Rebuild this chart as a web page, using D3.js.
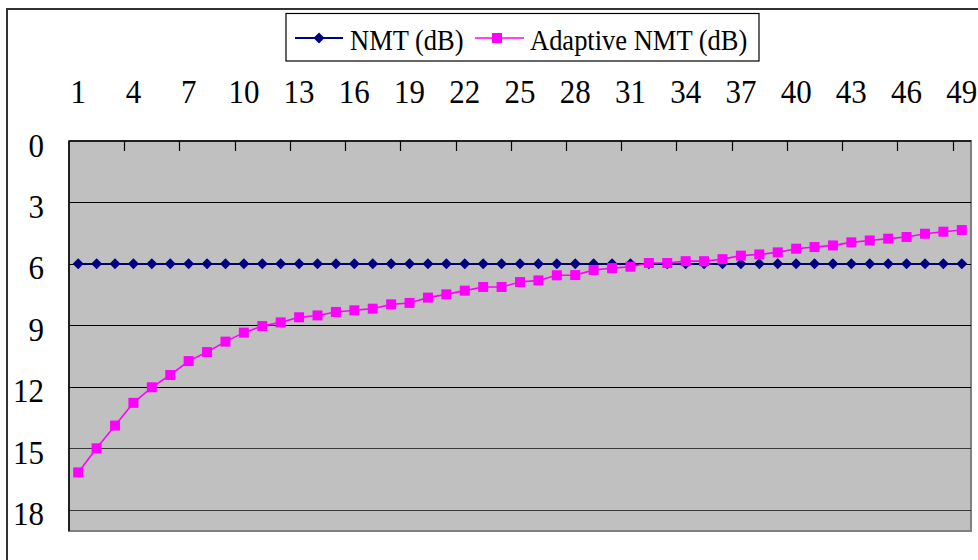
<!DOCTYPE html>
<html><head><meta charset="utf-8">
<script src="https://cdn.jsdelivr.net/npm/d3@7"></script>
</head><body style="margin:0">
<svg id="c" width="978" height="560"></svg>
<script>
const categories = d3.range(1, 50);
const nmt = categories.map(() => 6);
const adaptive = [16.19,15.01,13.90,12.79,12.03,11.43,10.75,10.31,9.80,9.36,
  9.04,8.86,8.61,8.52,8.35,8.27,8.19,7.98,7.91,7.65,
  7.49,7.31,7.13,7.13,6.89,6.81,6.56,6.55,6.30,6.21,
  6.14,5.96,5.96,5.87,5.87,5.77,5.60,5.54,5.44,5.26,
  5.18,5.10,4.95,4.86,4.77,4.69,4.53,4.43,4.35];
const xTickLabels = [1,4,7,10,13,16,19,22,25,28,31,34,37,40,43,46,49];
const yTicks = [0,3,6,9,12,15,18];
const seriesNames = ["NMT (dB)", "Adaptive NMT (dB)"];

const svg = d3.select("#c");
const L = 69, R = 971, T = 141, B = 531;
const x = d3.scaleBand().domain(categories).range([L, R]).padding(0);
const cx = d => x(d) + x.bandwidth() / 2;
const y = d3.scaleLinear().domain([0, 19.05]).range([T, B]);

// outer chart border
svg.append("rect").attr("x", 7).attr("y", 9).attr("width", 1000).attr("height", 600)
  .attr("fill", "#fff").attr("stroke", "#333").attr("stroke-width", 2);

// plot area
svg.append("rect").attr("x", L).attr("y", T).attr("width", R - L).attr("height", B - T)
  .attr("fill", "#c0c0c0").attr("stroke", "#808080").attr("stroke-width", 2);

// gridlines
svg.append("g").selectAll("line").data(yTicks.filter(v => v > 0)).join("line")
  .attr("x1", L).attr("x2", R).attr("y1", d => Math.round(y(d)) + 0.5).attr("y2", d => Math.round(y(d)) + 0.5)
  .attr("stroke", d => d >= 15 ? "#3a3a3a" : "#000").attr("stroke-width", 1.2);

// axis lines with ticks inward
svg.append("line").attr("x1", L).attr("x2", R).attr("y1", T).attr("y2", T).attr("stroke", "#000").attr("stroke-width", 1.5);
svg.append("line").attr("x1", L).attr("x2", L).attr("y1", T).attr("y2", B).attr("stroke", "#000").attr("stroke-width", 1.5);
const tickIdx = d3.range(3, 49, 3);
svg.append("g").selectAll("line").data(tickIdx).join("line")
  .attr("x1", d => Math.round(x(categories[d])) + 0.5).attr("x2", d => Math.round(x(categories[d])) + 0.5)
  .attr("y1", T).attr("y2", T + 10).attr("stroke", "#000").attr("stroke-width", 1.2);

// x tick labels (slightly tall serif glyphs)
svg.append("g").selectAll("text").data(xTickLabels).join("text")
  .attr("transform", d => `translate(${cx(d)},103) scale(1,1.1)`).attr("text-anchor", "middle")
  .attr("font-family", "Liberation Serif").attr("font-size", 31).text(d => d);
// y tick labels
svg.append("g").selectAll("text").data(yTicks).join("text")
  .attr("transform", d => `translate(44,${y(d) + 15.5}) scale(1,1.1)`).attr("text-anchor", "end")
  .attr("font-family", "Liberation Serif").attr("font-size", 31).text(d => d);

// lines
const line = d3.line().x((d, i) => cx(categories[i])).y(d => y(d));
svg.append("path").datum(nmt).attr("d", line).attr("fill", "none").attr("stroke", "#000080").attr("stroke-width", 1.8);
svg.append("path").datum(adaptive).attr("d", line).attr("fill", "none").attr("stroke", "#ff00ff").attr("stroke-width", 1.6);

const diamond = (px, py, s) => `M${px},${py - s}L${px + s},${py}L${px},${py + s}L${px - s},${py}Z`;
svg.append("g").selectAll("path").data(nmt).join("path")
  .attr("d", (d, i) => diamond(cx(categories[i]), y(d), 5.5)).attr("fill", "#000080");
svg.append("g").selectAll("rect").data(adaptive).join("rect")
  .attr("x", (d, i) => cx(categories[i]) - 5).attr("y", d => y(d) - 5)
  .attr("width", 10).attr("height", 10).attr("fill", "#ff00ff");

// legend
const lg = svg.append("g");
lg.append("rect").attr("x", 286).attr("y", 13.5).attr("width", 473).attr("height", 47.5)
  .attr("fill", "#fff").attr("stroke", "#000").attr("stroke-width", 1.2);
lg.append("line").attr("x1", 295).attr("x2", 343).attr("y1", 38).attr("y2", 38).attr("stroke", "#000080").attr("stroke-width", 1.8);
lg.append("path").attr("d", diamond(319, 38, 5.5)).attr("fill", "#000080");
lg.append("text").attr("transform", "translate(350,50) scale(1,1.1)")
  .attr("font-family", "Liberation Serif").attr("font-size", 26.5).text(seriesNames[0]);
lg.append("line").attr("x1", 475).attr("x2", 524).attr("y1", 38).attr("y2", 38).attr("stroke", "#ff00ff").attr("stroke-width", 1.6);
lg.append("rect").attr("x", 492).attr("y", 33).attr("width", 10).attr("height", 10).attr("fill", "#ff00ff");
lg.append("text").attr("transform", "translate(530,50) scale(1,1.1)")
  .attr("font-family", "Liberation Serif").attr("font-size", 26.5).text(seriesNames[1]);
</script>
</body></html>
